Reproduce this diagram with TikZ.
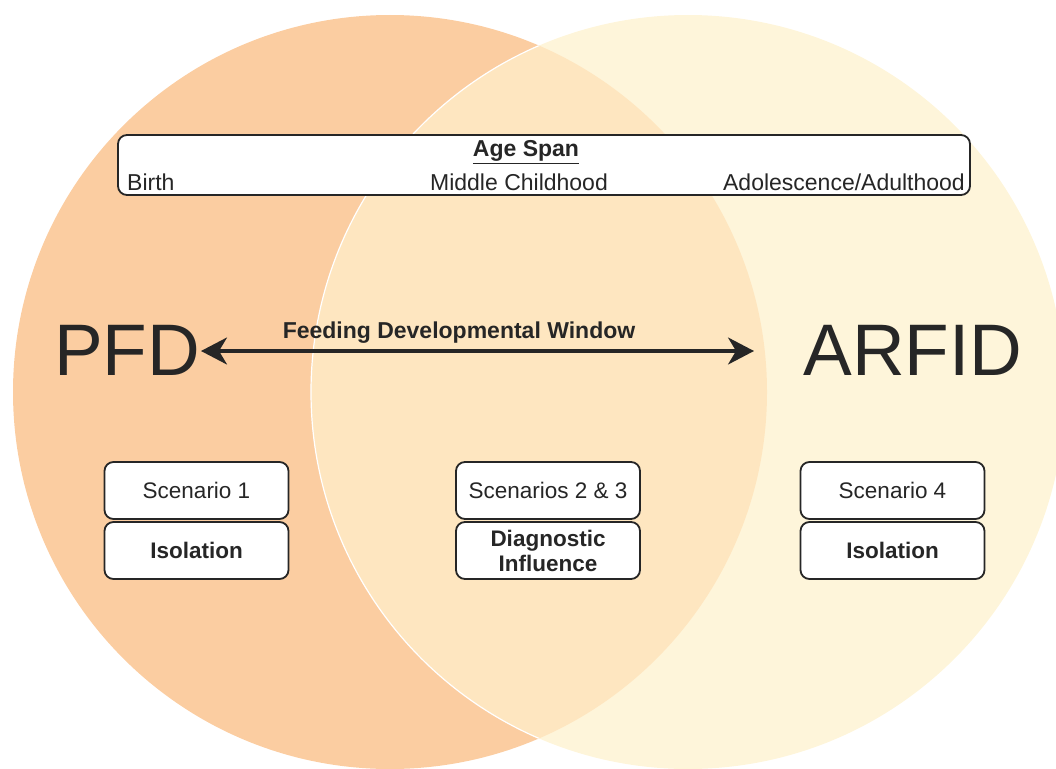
\documentclass[tikz,border=0pt]{standalone}
\usepackage{fontspec}
\setmainfont{Liberation Sans}
\usetikzlibrary{arrows.meta}
\definecolor{peach}{HTML}{FBCDA1}
\definecolor{cream}{HTML}{FEF5DA}
\definecolor{overlapc}{HTML}{FEE6C0}
\definecolor{ink}{HTML}{262626}
\tikzset{
  txt/.style={text=ink, font=\fontsize{23}{27}\selectfont, inner sep=0pt},
  btxt/.style={txt, font=\fontsize{23}{27}\selectfont\bfseries},
  bigtxt/.style={text=ink, font=\fontsize{73}{78}\selectfont, inner sep=0pt},
  rbox/.style={draw=ink, fill=white, line width=1.8pt, rounded corners=9pt,
    minimum width=184pt, minimum height=57pt, inner sep=0pt, align=center, text=ink},
  rtxt/.style={font=\fontsize{22.5}{25}\selectfont},
  rbtxt/.style={font=\fontsize{22.5}{25}\selectfont\bfseries},
  spanbox/.style={draw=ink, fill=white, line width=1.8pt, rounded corners=9pt,
    minimum width=852pt, minimum height=60pt, inner sep=0pt},
  darrow/.style={draw=ink, line width=3.2pt, {Stealth[length=26pt,width=27pt,inset=8pt]}-{Stealth[length=26pt,width=27pt,inset=8pt]}}
}
\begin{document}
\begin{tikzpicture}[x=1pt,y=-1pt]
\useasboundingbox (0,0) rectangle (1056,768);
\begin{scope}
  \clip (0,0) rectangle (1056,768);
  \fill[peach] (390,392) circle [radius=377];
  \fill[cream] (688,392) circle [radius=377];
  \begin{scope}
    \clip (390,392) circle [radius=377];
    \fill[overlapc] (688,392) circle [radius=377];
    \draw[white, line width=1.2pt] (688,392) circle [radius=377];
  \end{scope}
\end{scope}

% Age span
\node[spanbox] (span) at (544,165) {};
\node[btxt] (agespan) at (526,152) {\underline{Age Span}};
\node[txt, anchor=west] (birth) at (127,182) {Birth};
\node[txt] (middle) at (519,182) {Middle Childhood};
\node[txt, anchor=east] (adol) at (965,182) {Adolescence/Adulthood};

% Big labels
\node[bigtxt] (pfd) at (127,350) {PFD};
\node[bigtxt] (arfid) at (913,350) {ARFID};
\coordinate (aL) at (201,351);
\coordinate (aR) at (754,351);
\draw[darrow] (aL) -- (aR);
\node[btxt] (window) at (459,333) {Feeding Developmental Window};

% Scenario boxes
\node[rbox, rtxt] (s1) at (196.5,490.5) {Scenario 1};
\node[rbox, rbtxt] (i1) at (196.5,550.5) {Isolation};
\node[rbox, rtxt] (s23) at (548,490.5) {Scenarios 2 \& 3};
\node[rbox, rbtxt] (d23) at (548,550.5) {Diagnostic\\Influence};
\node[rbox, rtxt] (s4) at (892.5,490.5) {Scenario 4};
\node[rbox, rbtxt] (i4) at (892.5,550.5) {Isolation};
\end{tikzpicture}
\end{document}
